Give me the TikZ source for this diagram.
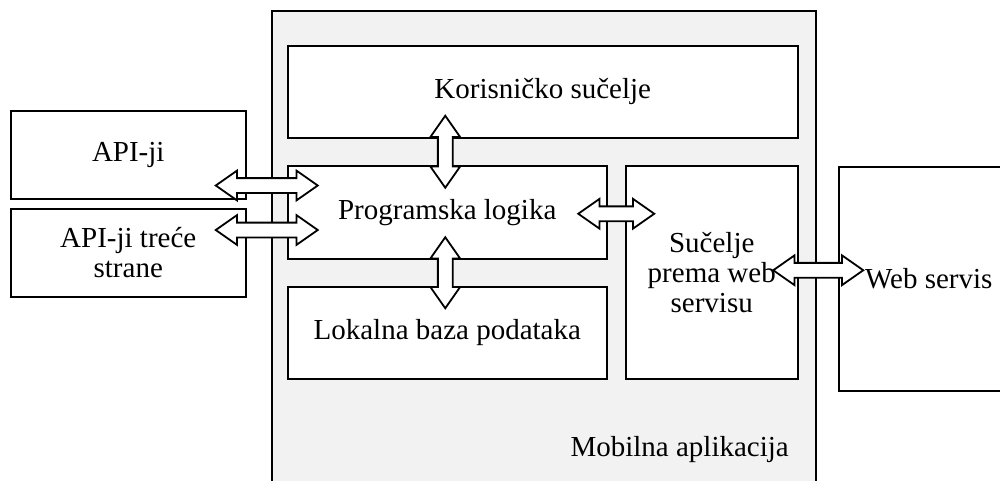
\documentclass[tikz,border=0pt]{standalone}
\usepackage{fontspec}
\setmainfont{Liberation Serif}
\usetikzlibrary{shapes.arrows,calc}
\definecolor{sivo}{HTML}{F2F2F2}

\begin{document}
\begin{tikzpicture}[x=1pt,y=-1pt,
		blok/.style={draw, line width=1.5pt, fill=white, inner sep=0pt, align=center, anchor=north west},
		dvosmjer/.style={double arrow, draw, line width=1.8pt, fill=white, inner xsep=0pt, inner ysep=6.5pt,
			double arrow head extend=7.5pt, double arrow tip angle=70}]
		\tikzstyle{every node}=[font=\fontsize{29pt}{33pt}\selectfont]
		
		\useasboundingbox (0,0) rectangle (1000,480);
		\clip (0,0) rectangle (1000,480);
		
		% mobilna aplikacija
		\node[blok, fill=sivo, minimum width=544, minimum height=500] (mob) at (271,10) {};
		\node[anchor=east, inner sep=0pt] (mobtxt) at (789,450) {Mobilna aplikacija};
		
		\node[blok, minimum width=510, minimum height=92] (kor) at (287,45) {Korisničko sučelje};
		\node[blok, minimum width=319, minimum height=93] (prog) at (287,165) {Programska logika};
		\node[blok, minimum width=319, minimum height=92] (baza) at (287,286) {Lokalna baza podataka};
		\node[blok, minimum width=172, minimum height=213, font=\fontsize{29pt}{30pt}\selectfont] (suc) at (625,165) {Sučelje\\prema web\\servisu};
		
		% vanjski dijelovi
		\node[blok, minimum width=235, minimum height=88] (api) at (10,110) {API-ji};
		\node[blok, minimum width=235, minimum height=88, font=\fontsize{29pt}{30pt}\selectfont] (api3) at (10,208) {API-ji treće\\strane};
		\node[blok, minimum width=180, minimum height=224] (web) at (838,166) {Web servis};
		
		% strelice
		\node[dvosmjer, minimum height=102] (a1) at ($($(api.south east)!0.5!(prog.west |- api.south)$)+(0,-14)$) {};
		\node[dvosmjer, minimum height=102] (a2) at ($($(api3.north east)!0.5!(prog.west |- api3.north)$)+(0,22)$) {};
		\node[dvosmjer, rotate=90, minimum height=72] (a3) at ($($(kor.south -| prog.north)!0.5!(prog.north)$)+(-2,0)$) {};
		\node[dvosmjer, rotate=90, minimum height=71] (a4) at ($($(prog.south)!0.5!(baza.north)$)+(-2,0)$) {};
		\node[dvosmjer, minimum height=76] (a5) at ($($(prog.east)!0.5!(suc.west |- prog.east)$)+(0,1.5)$) {};
		\node[dvosmjer, minimum height=90] (a6) at ($($(suc.east)!0.5!(web.west |- suc.east)$)+(0,-2)$) {};
		
	\end{tikzpicture}
\end{document}
